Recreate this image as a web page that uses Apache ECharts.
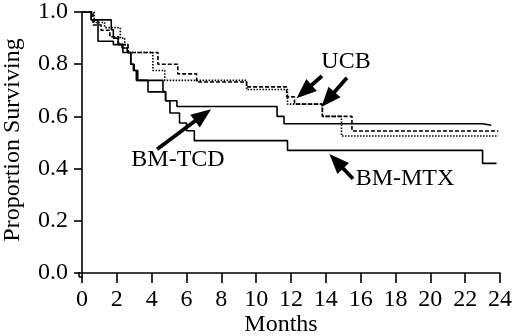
<!DOCTYPE html>
<html><head><meta charset="utf-8">
<script src="https://cdn.jsdelivr.net/npm/echarts@6/dist/echarts.min.js"></script>
<style>html,body{margin:0;padding:0;background:#fff}#c{width:520px;height:336px}</style>
</head><body><div id="c"></div>
<script>
// X ticks (months) and Y ticks
const xTicks = [0,2,4,6,8,10,12,14,16,18,20,22,24];
const yTicks = [0.0,0.2,0.4,0.6,0.8,1.0];

// BM-TCD (upper solid)
const tcdTime = [0, 0.53, 1.68, 1.8, 2.07, 2.35, 2.8, 2.95, 3.12, 4.65, 4.8, 5.45, 11.2, 11.6, 23.0, 23.5];
const tcdSurv = [1.0, 0.97, 0.932, 0.90, 0.876, 0.845, 0.80, 0.776, 0.738, 0.695, 0.66, 0.638, 0.60, 0.572, 0.566, 0.566];
// BM-MTX (lower solid)
const mtxTime = [0, 0.53, 0.92, 1.8, 2.3, 2.6, 2.8, 3.0, 3.2, 3.79, 4.8, 5.05, 5.6, 6.0, 6.45, 11.8, 23.0, 23.8];
const mtxSurv = [1.0, 0.97, 0.888, 0.875, 0.862, 0.845, 0.80, 0.776, 0.738, 0.694, 0.66, 0.613, 0.575, 0.545, 0.507, 0.47, 0.42, 0.42];
// UCB group A (dashed)
const ucbATime = [0, 0.63, 1.1, 1.6, 2.1, 2.64, 4.36, 5.5, 6.58, 9.45, 11.75, 12.2, 13.8, 15.5, 23.9];
const ucbASurv = [1.0, 0.95, 0.93, 0.905, 0.875, 0.845, 0.80, 0.763, 0.732, 0.713, 0.675, 0.647, 0.60, 0.544, 0.544];
// UCB group B (dotted)
const ucbBTime = [0, 0.7, 1.3, 2.2, 2.45, 2.64, 4.07, 4.75, 9.45, 11.8, 13.8, 14.9, 23.9];
const ucbBSurv = [1.0, 0.96, 0.94, 0.90, 0.875, 0.845, 0.776, 0.738, 0.703, 0.647, 0.60, 0.525, 0.525];

// annotation arrows [tailX, tailY, tipX, tipY] in data units
const arrows = [
  [13.78, 0.755, 12.75, 0.695],
  [15.21, 0.748, 14.12, 0.665],
  [4.31, 0.474, 6.95, 0.605],
  [15.56, 0.361, 14.6, 0.428]
];

const FONT = 'Liberation Serif';
const pair = (t, s) => t.map((v, i) => [v, s[i]]);
const chart = echarts.init(document.getElementById('c'), null, {renderer: 'canvas'});

function stepSeries(name, t, s, type, extra) {
  return Object.assign({
    name, type: 'line', step: 'end', data: pair(t, s), symbol: 'none', silent: true,
    lineStyle: {color: '#000', width: 1.6, type: type}
  }, extra || {});
}
function txt(x, y, text, rot) {
  return {type: 'text', x, y, rotation: rot || 0,
    style: {text, fontFamily: FONT, fontSize: 24, fill: '#000', align: 'center', verticalAlign: 'middle'}};
}

chart.setOption({
  backgroundColor: '#fff',
  animation: false,
  grid: {left: 82, right: 20, top: 7, bottom: 63},
  xAxis: {
    type: 'value', min: 0, max: 24, interval: 2, offset: 4,
    axisLine: {lineStyle: {color: '#000', width: 1.6}},
    axisTick: {length: 10, lineStyle: {color: '#000', width: 1.6}},
    axisLabel: {color: '#000', fontFamily: FONT, fontSize: 24, margin: 11,
      formatter: v => xTicks.includes(v) ? String(v) : ''},
    splitLine: {show: false}
  },
  yAxis: {
    type: 'value', min: 0, max: 1, interval: 0.2, offset: 3,
    axisLine: {lineStyle: {color: '#000', width: 1.6}},
    axisTick: {length: 8, lineStyle: {color: '#000', width: 1.6}},
    axisLabel: {color: '#000', fontFamily: FONT, fontSize: 24, margin: 11,
      formatter: v => v.toFixed(1)},
    splitLine: {show: false}
  },
  series: [
    stepSeries('BM-TCD', tcdTime, tcdSurv, 'solid'),
    stepSeries('BM-MTX', mtxTime, mtxSurv, 'solid', {
      markLine: {
        silent: true, symbol: ['none', 'triangle'], symbolSize: [16, 20],
        label: {show: false},
        itemStyle: {color: '#000'},
        lineStyle: {color: '#000', width: 3.8, type: 'solid'},
        data: arrows.map(a => [{coord: [a[0], a[1]]}, {coord: [a[2], a[3]]}])
      }
    }),
    stepSeries('UCB-A', ucbATime, ucbASurv, [4, 2]),
    stepSeries('UCB-B', ucbBTime, ucbBSurv, [1.5, 1.5])
  ],
  graphic: [
    {type: 'line', shape: {x1: 79, y1: 272, x2: 79, y2: 277}, style: {stroke: '#000', lineWidth: 1.6}},
    {type: 'line', shape: {x1: 79, y1: 277, x2: 83, y2: 277}, style: {stroke: '#000', lineWidth: 1.6}},
    txt(346, 62, 'UCB'),
    txt(178, 160, 'BM-TCD'),
    txt(405, 179, 'BM-MTX'),
    txt(281, 325, 'Months'),
    txt(13, 140, 'Proportion Surviving', Math.PI / 2)
  ]
});
</script></body></html>
